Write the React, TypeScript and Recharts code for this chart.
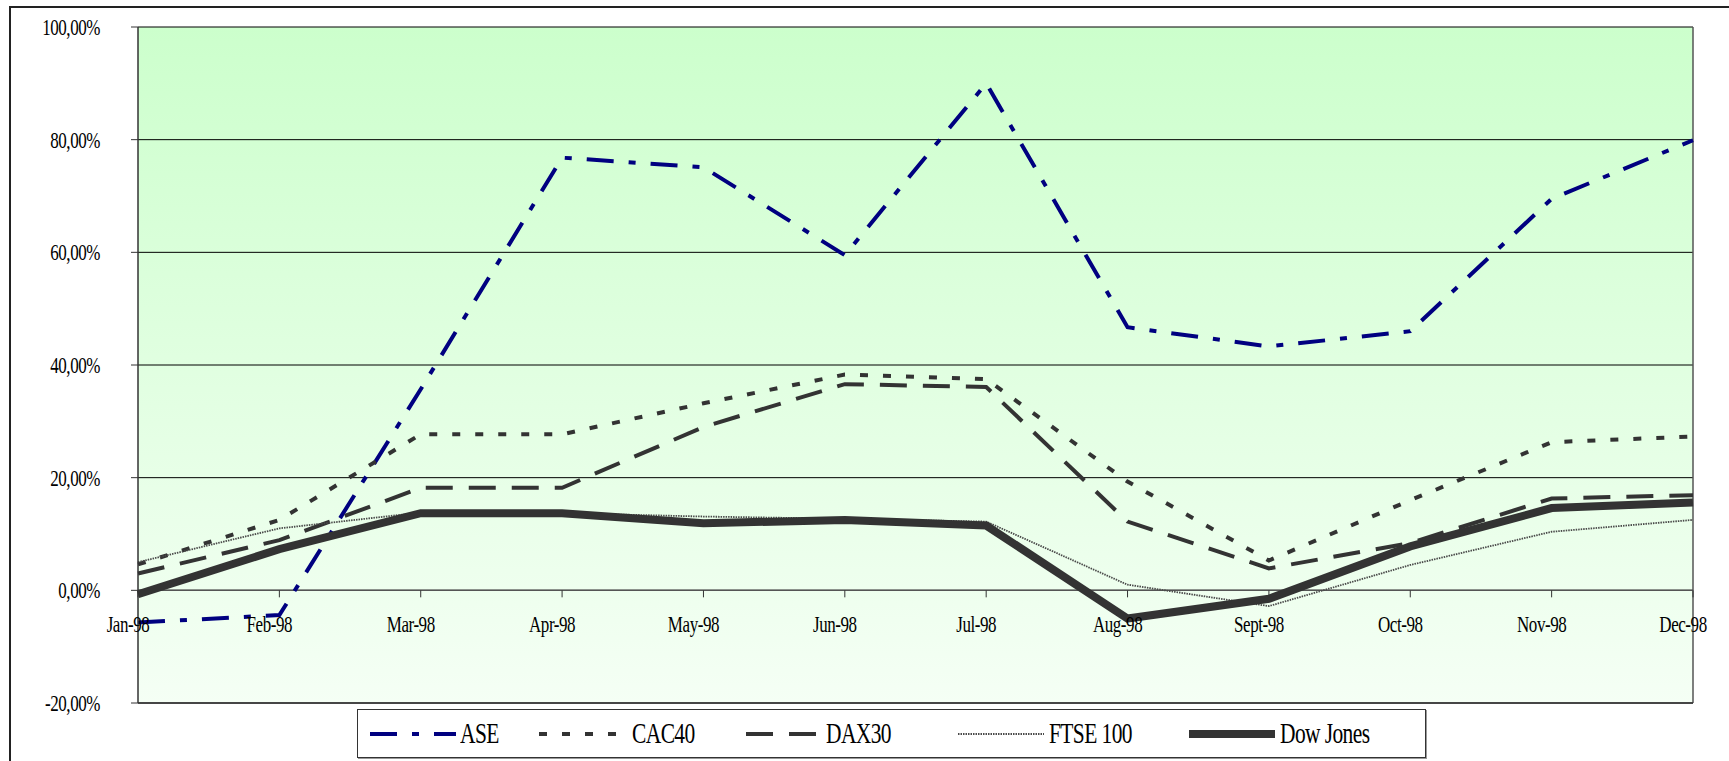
import React from 'react';
import { LineChart, Line, XAxis, YAxis, CartesianGrid, ReferenceLine } from 'recharts';

const months = ['Jan-98', 'Feb-98', 'Mar-98', 'Apr-98', 'May-98', 'Jun-98', 'Jul-98', 'Aug-98', 'Sept-98', 'Oct-98', 'Nov-98', 'Dec-98'];
const ase = [-5.7, -4.4, 35.7, 76.8, 75.1, 59.5, 90.0, 46.7, 43.3, 46.0, 69.5, 79.9];
const cac40 = [4.6, 12.5, 27.7, 27.7, 33.2, 38.3, 37.5, 19.3, 5.3, 16.0, 26.3, 27.3];
const dax30 = [3.0, 8.9, 18.2, 18.2, 29.0, 36.6, 36.1, 12.2, 3.9, 8.4, 16.3, 16.9];
const ftse100 = [5.0, 11.0, 13.8, 13.7, 13.1, 12.7, 12.2, 1.0, -2.8, 4.5, 10.4, 12.5];
const dowJones = [-0.7, 7.3, 13.7, 13.7, 11.9, 12.5, 11.5, -5.0, -1.5, 7.8, 14.6, 15.6];
const yTicks = [-20, 0, 20, 40, 60, 80, 100];
const seriesNames = ['ASE', 'CAC40', 'DAX30', 'FTSE 100', 'Dow Jones'];

const data = months.map((m, i) => ({
  month: m,
  ASE: ase[i],
  CAC40: cac40[i],
  DAX30: dax30[i],
  'FTSE 100': ftse100[i],
  'Dow Jones': dowJones[i],
}));

const W = 1729;
const H = 761;
const MARGIN = { top: 27, right: 36, left: 10, bottom: 57 };
const X_AXIS_H = 1;
const PLOT_H = H - MARGIN.top - MARGIN.bottom - X_AXIS_H;
const Y_MIN = -20;
const Y_MAX = 100;
const FONT = '"Liberation Serif", "Times New Roman", serif';

const styles: Record<string, { stroke: string; width: number; dash?: string }> = {
  ASE: { stroke: '#000080', width: 4, dash: '27 15 7 15' },
  CAC40: { stroke: '#333333', width: 4, dash: '8 15' },
  DAX30: { stroke: '#333333', width: 4, dash: '27 16' },
  'FTSE 100': { stroke: '#4a4a4a', width: 1.8, dash: '1.5 1' },
  'Dow Jones': { stroke: '#333333', width: 8 },
};

const fmt = (v: number) => v.toFixed(2).replace('.', ',') + '%';

const YTick = (props: any) => {
  const { x, y, payload } = props;
  return (
    <text
      transform={`translate(${x},${y}) scale(0.74,1)`}
      textAnchor="end"
      dominantBaseline="central"
      fontFamily={FONT}
      fontSize={23}
      letterSpacing={-0.6}
      fill="#000"
    >
      {fmt(payload.value)}
    </text>
  );
};

const XTick = (props: any) => {
  const { x, payload } = props;
  const zeroY = MARGIN.top + (PLOT_H * (Y_MAX - 0)) / (Y_MAX - Y_MIN);
  return (
    <g>
      <line x1={x} x2={x} y1={zeroY} y2={zeroY + 7} stroke="#333" strokeWidth={1} />
      <text
        transform={`translate(${x - 10},${zeroY + 42}) scale(0.74,1)`}
        textAnchor="middle"
        fontFamily={FONT}
        fontSize={23}
        letterSpacing={-0.6}
        fill="#000"
      >
        {payload.value}
      </text>
    </g>
  );
};

const legendLayout = [
  { sym: 12, text: 102 },
  { sym: 181, text: 274 },
  { sym: 388, text: 468 },
  { sym: 600, text: 691 },
  { sym: 831, text: 922 },
];

const LegendBox = () => (
  <div
    style={{
      position: 'absolute',
      left: 357,
      top: 709,
      width: 1069,
      height: 49,
      boxSizing: 'border-box',
      border: '1px solid #333',
      boxShadow: '1px 1px 0 #999',
      background: '#fff',
    }}
  >
    {seriesNames.map((name, i) => {
      const s = styles[name];
      const lay = legendLayout[i];
      return (
        <React.Fragment key={name}>
          <svg
            width={86}
            height={12}
            style={{ position: 'absolute', left: lay.sym, top: 18 }}
          >
            <line
              x1={0}
              x2={86}
              y1={6}
              y2={6}
              stroke={s.stroke}
              strokeWidth={s.width}
              strokeDasharray={s.dash}
            />
          </svg>
          <span
            style={{
              position: 'absolute',
              left: lay.text,
              top: 6,
              fontFamily: FONT,
              fontSize: 29,
              lineHeight: '34px',
              letterSpacing: -0.8,
              whiteSpace: 'nowrap',
              transform: 'scaleX(0.74)',
              transformOrigin: 'left center',
              color: '#000',
            }}
          >
            {name}
          </span>
        </React.Fragment>
      );
    })}
  </div>
);

export default function App() {
  return (
    <div style={{ position: 'absolute', left: 0, top: 0, width: W, height: H, overflow: 'hidden', background: '#fff' }}>
      <div
        style={{
          position: 'absolute',
          left: 9,
          top: 6,
          width: 3000,
          height: 3000,
          borderLeft: '2px solid #222',
          borderTop: '2px solid #222',
        }}
      />
      <div style={{ position: 'absolute', left: 0, top: 0 }}>
        <LineChart width={W} height={H} data={data} margin={MARGIN}>
          <defs>
            <linearGradient id="plotBg" x1="0" y1="0" x2="0" y2="1">
              <stop offset="0%" stopColor="#ccffcc" />
              <stop offset="100%" stopColor="#f5fff5" />
            </linearGradient>
          </defs>
          <CartesianGrid vertical={false} stroke="#000" strokeWidth={1} fill="url(#plotBg)" fillOpacity={1} />
          <XAxis
            dataKey="month"
            scale="point"
            padding={{ left: 0, right: 0 }}
            height={X_AXIS_H}
            axisLine={false}
            tickLine={false}
            interval={0}
            tick={(p: any) => <XTick {...p} />}
          />
          <YAxis
            width={128}
            domain={[Y_MIN, Y_MAX]}
            ticks={yTicks}
            interval={0}
            allowDataOverflow
            axisLine={{ stroke: '#333', strokeWidth: 1.5 }}
            tickLine={{ stroke: '#333' }}
            tickSize={7}
            tickMargin={31}
            tick={(p: any) => <YTick {...p} />}
          />
          <ReferenceLine y={0} stroke="#555" strokeWidth={1.5} />
          <ReferenceLine x="Dec-98" stroke="#555" strokeWidth={1.5} />
          <ReferenceLine y={Y_MIN} stroke="#333" strokeWidth={1.5} />
          {seriesNames.map((name) => {
            const s = styles[name];
            return (
              <Line
                key={name}
                type="linear"
                dataKey={name}
                stroke={s.stroke}
                strokeWidth={s.width}
                strokeDasharray={s.dash}
                dot={false}
                activeDot={false}
                isAnimationActive={false}
              />
            );
          })}
        </LineChart>
      </div>
      <LegendBox />
    </div>
  );
}
